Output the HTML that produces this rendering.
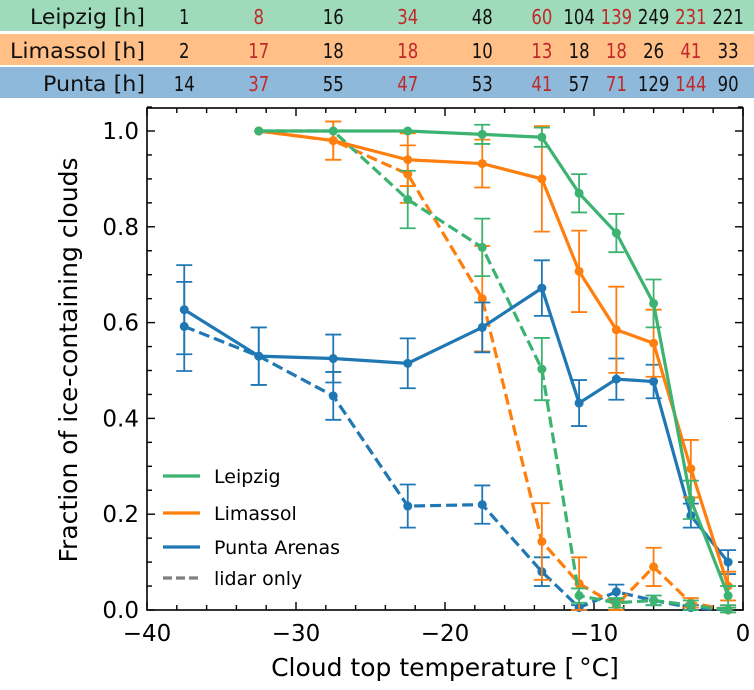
<!DOCTYPE html>
<html><head><meta charset="utf-8"><style>
body{margin:0;background:#fff;width:754px;height:686px;overflow:hidden;font-family:"DejaVu Sans","Liberation Sans",sans-serif}
</style></head><body>
<svg id="c" width="754" height="686" xmlns="http://www.w3.org/2000/svg" font-family="DejaVu Sans, Liberation Sans, sans-serif"></svg>
<script>
const binsT=[-37.5,-32.5,-27.5,-22.5,-17.5,-13.5,-11,-8.5,-6,-3.5,-1];
const leipzigHours=[1,8,16,34,48,60,104,139,249,231,221];
const limassolHours=[2,17,18,18,10,13,18,18,26,41,33];
const puntaHours=[14,37,55,47,53,41,57,71,129,144,90];
const tempsL=[-32.5,-27.5,-22.5,-17.5,-13.5,-11,-8.5,-6,-3.5,-1];
const leipzigSolid=[1.0,1.0,1.0,0.993,0.987,0.87,0.787,0.64,0.23,0.03];
const leipzigSolidErr=[0,0,0,0.02,0.02,0.04,0.04,0.05,0.04,0.02];
const leipzigDash=[1.0,1.0,0.857,0.757,0.503,0.03,0.015,0.02,0.01,0.0];
const leipzigDashErr=[0,0,0.06,0.06,0.065,0.015,0.01,0.01,0.01,0.005];
const limassolSolid=[1.0,0.98,0.94,0.932,0.90,0.707,0.585,0.557,0.295,0.05];
const limassolSolidErr=[0,0.04,0.055,0.05,0.11,0.085,0.09,0.07,0.06,0.03];
const limassolDash=[1.0,0.98,0.91,0.65,0.143,0.055,0.01,0.09,0.015,0.0];
const limassolDashErr=[0,0.04,0.06,0.11,0.08,0.055,0.01,0.04,0.01,0.005];
const tempsP=[-37.5,-32.5,-27.5,-22.5,-17.5,-13.5,-11,-8.5,-6,-3.5,-1];
const puntaSolid=[0.627,0.53,0.525,0.515,0.59,0.672,0.432,0.482,0.477,0.197,0.10];
const puntaSolidErr=[0.093,0.06,0.05,0.052,0.052,0.058,0.048,0.043,0.035,0.025,0.025];
const puntaDash=[0.592,0.53,0.447,0.217,0.22,0.08,0.005,0.038,0.02,0.005,0.0];
const puntaDashErr=[0.093,0.06,0.05,0.045,0.04,0.03,0.005,0.015,0.01,0.005,0.0];
const xTicks=[-40,-30,-20,-10,0];
const yTicks=[0,0.2,0.4,0.6,0.8,1.0];
const yTickLabels=["0.0","0.2","0.4","0.6","0.8","1.0"];

const L=147,R=743,T=108,B=610;
const X=t=>L+(t+40)/40*(R-L);
const Y=v=>B-v*479;
const svg=document.getElementById('c');
const NS='http://www.w3.org/2000/svg';
function mk(tag,attrs,parent){const e=document.createElementNS(NS,tag);for(const k in attrs)e.setAttribute(k,attrs[k]);(parent||svg).appendChild(e);return e;}
// table
const rows=[["Leipzig [h]",leipzigHours,"#9fdbbb",0,115],["Limassol [h]",limassolHours,"#ffbf86",34,135],["Punta [h]",puntaHours,"#8fb9da",67,102]];
rows.forEach((r,i)=>{
 const g=mk('g',{});
 
 
 mk('rect',{x:0,y:r[3],width:754,height:31,fill:r[2]},g);
 const lt=mk('text',{x:145-r[4],y:r[3]+24,'font-size':21,fill:'#111',textLength:r[4],lengthAdjust:'spacingAndGlyphs'},g);lt.textContent=r[0];
 r[1].forEach((v,j)=>{const s=String(v);const w=s.length*10.5;
  const t=mk('text',{x:X(binsT[j])-w/2,y:r[3]+24,'font-size':20,fill:j%2?'#c0282a':'#111',textLength:w,lengthAdjust:'spacingAndGlyphs'},g);
  
  
  t.textContent=s;});
});
// axes frame
const fr=mk('rect',{x:L,y:T,width:R-L,height:B-T,fill:'none',stroke:'#000','stroke-width':1.6});


for(let t=-40;t<=0;t+=2){const maj=t%10===0,l=maj?8:5;
 mk('line',{x1:X(t),x2:X(t),y1:B,y2:B-l,stroke:'#000','stroke-width':1.4});
 mk('line',{x1:X(t),x2:X(t),y1:T,y2:T+l,stroke:'#000','stroke-width':1.4});}
for(let k=0;k<=21;k++){const v=k*0.05,maj=k%4===0,l=maj?8:5;
 mk('line',{x1:L,x2:L+l,y1:Y(v),y2:Y(v),stroke:'#000','stroke-width':1.4});
 mk('line',{x1:R,x2:R-l,y1:Y(v),y2:Y(v),stroke:'#000','stroke-width':1.4});}
xTicks.forEach(t=>{const e=mk('text',{x:X(t),y:641,'text-anchor':'middle','font-size':23});e.textContent=t<0?'\u2212'+(-t):t;});
yTicks.forEach((v,i)=>{const e=mk('text',{x:L-8,y:Y(v)+8,'text-anchor':'end','font-size':23});e.textContent=yTickLabels[i];});
const xl=mk('text',{x:445,y:676,'text-anchor':'middle','font-size':25});xl.textContent='Cloud top temperature [\u2009\u00b0C]';
const yl=mk('text',{x:0,y:0,'text-anchor':'middle','font-size':25,transform:'translate(77,360) rotate(-90)'});yl.textContent='Fraction of ice-containing clouds';
// series
function series(name,ts,vals,errs,col,dash){
 const g=mk('g',{});
 
 
 ts.forEach((t,i)=>{if(errs[i]>0){const x=X(t),y1=Y(vals[i]-errs[i]),y2=Y(vals[i]+errs[i]);
  mk('line',{x1:x,x2:x,y1:y1,y2:y2,stroke:col,'stroke-width':1.8},g);
  mk('line',{x1:x-8,x2:x+8,y1:y1,y2:y1,stroke:col,'stroke-width':1.8},g);
  mk('line',{x1:x-8,x2:x+8,y1:y2,y2:y2,stroke:col,'stroke-width':1.8},g);}});
 mk('polyline',{points:ts.map((t,i)=>X(t)+','+Y(vals[i])).join(' '),fill:'none',stroke:col,'stroke-width':3.2,'stroke-dasharray':dash?'11,5':'none'},g);
 ts.forEach((t,i)=>mk('circle',{cx:X(t),cy:Y(vals[i]),r:4.5,fill:col},g));
}
const G='#3cb371',O='#ff7f0e',Bl='#1f77b4';
series('punta-lidar-line',tempsP,puntaDash,puntaDashErr,Bl,true);
series('limassol-lidar-line',tempsL,limassolDash,limassolDashErr,O,true);
series('leipzig-lidar-line',tempsL,leipzigDash,leipzigDashErr,G,true);
series('punta-line',tempsP,puntaSolid,puntaSolidErr,Bl,false);
series('limassol-line',tempsL,limassolSolid,limassolSolidErr,O,false);
series('leipzig-line',tempsL,leipzigSolid,leipzigSolidErr,G,false);
// legend
const leg=[["Leipzig",G,false,476],["Limassol",O,false,513],["Punta Arenas",Bl,false,547],["lidar only","#7f7f7f",true,578]];
leg.forEach(e=>{const g=mk('g',{});
 mk('line',{x1:163,x2:200,y1:e[3],y2:e[3],stroke:e[1],'stroke-width':3.2,'stroke-dasharray':e[2]?'9,4':'none'},g);
 const t=mk('text',{x:214,y:e[3]+7,'font-size':19},g);t.textContent=e[0];});
</script>
</body></html>
